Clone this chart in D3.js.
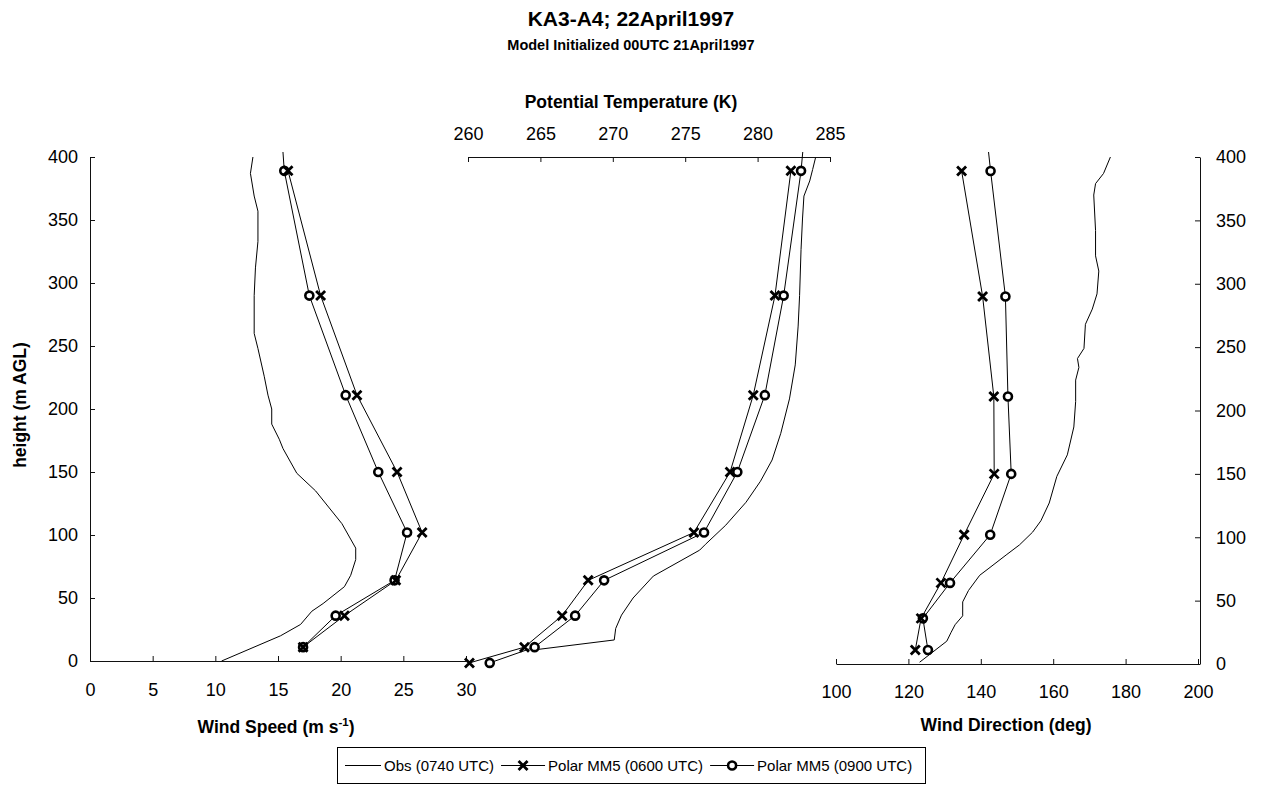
<!DOCTYPE html>
<html>
<head>
<meta charset="utf-8">
<script src="https://cdn.jsdelivr.net/npm/d3@7"></script>
<style>
  html, body { margin: 0; padding: 0; background: #fff; }
  svg { display: block; font-family: "Liberation Sans", Arial, sans-serif; }
  .axis path, .axis line { stroke: #111; stroke-width: 1; }
  .axis text { font-size: 18px; fill: #000; font-family: "Liberation Sans", Arial, sans-serif; }
</style>
</head>
<body>
<svg id="chart" width="1262" height="801"></svg>
<script>
// ---------------- DATA ----------------
const titleText = "KA3-A4; 22April1997";
const subtitleText = "Model Initialized 00UTC 21April1997";
const heightTicks = [0, 50, 100, 150, 200, 250, 300, 350, 400];
const speedTicks = [0, 5, 10, 15, 20, 25, 30];
const thetaTicks = [260, 265, 270, 275, 280, 285];
const dirTicks = [100, 120, 140, 160, 180, 200];
const seriesNames = ["Obs (0740 UTC)", "Polar MM5 (0600 UTC)", "Polar MM5 (0900 UTC)"];

// Model levels (m AGL)
const modelHeights = [11, 36, 64, 102, 150, 211, 290, 389];
const modelHeights0900 = [11, 36, 64, 102, 150, 211, 290, 389, 490];
const modelThetaHeights = [-1.5, 11, 36, 64, 102, 150, 211, 290, 389];
const modelThetaHeights0900 = [-1.5, 11, 36, 64, 102, 150, 211, 290, 389, 490];

// Wind speed (m/s)
const speed0600 = [17.0, 20.3, 24.4, 26.5, 24.5, 21.3, 18.4, 15.8];
const speed0900 = [17.0, 19.6, 24.3, 25.3, 23.0, 20.4, 17.5, 15.5, 14.8];
// Potential temperature (K)
const theta0600 = [260.1, 263.9, 266.5, 268.3, 275.6, 278.1, 279.7, 281.2, 282.3];
const theta0900 = [261.5, 264.6, 267.4, 269.4, 276.3, 278.6, 280.5, 281.8, 283.0, 283.8];
// Wind direction (deg)
const dir0600 = [121.9, 123.5, 129.0, 135.4, 143.7, 143.6, 140.5, 134.7];
const dir0900 = [125.4, 124.0, 131.5, 142.6, 148.4, 147.5, 146.8, 142.7, 138.9];

// Observed profiles
const obsSpeedHeights = [0, 20, 29, 39.5, 45.6, 59, 68, 80.5, 89.6, 109, 135, 149, 168.6, 176, 188, 200, 211, 226, 248, 260, 290, 312, 333, 357, 369, 387, 400];
const obsSpeed = [10.5, 15.2, 16.8, 17.7, 18.6, 20.3, 20.8, 21.2, 21.2, 20.1, 18.0, 16.5, 15.4, 15.1, 14.5, 14.5, 14.2, 13.9, 13.4, 13.1, 13.1, 13.2, 13.4, 13.4, 13.1, 12.8, 13.0];

const obsThetaHeights = [9, 16.7, 25.8, 36.4, 50, 67.4, 88, 92.6, 107.8, 126, 142.7, 159.5, 180.7, 208, 235, 265.8, 290, 326.5, 350.8, 369, 381, 390, 399.4];
const obsTheta = [264.7, 270.1, 270.2, 270.6, 271.4, 272.8, 276.0, 276.4, 277.8, 279.2, 280.2, 281.0, 281.6, 282.2, 282.6, 282.8, 282.9, 283.0, 283.1, 283.2, 283.6, 283.8, 284.0];

const obsDirHeights = [1.4, 18, 25, 31, 38, 49, 58, 70, 75, 86, 94, 104, 113, 127, 148, 165, 187, 207, 224, 234, 241, 249, 268, 280, 292, 310, 322, 342, 370, 379, 387, 400];
const obsDir = [123.1, 130.6, 131.8, 132.9, 135.0, 135.0, 136.6, 139.7, 142.0, 147.0, 150.7, 154.3, 156.6, 158.9, 161.0, 163.9, 165.7, 166.2, 166.2, 167.1, 166.7, 168.5, 168.9, 170.8, 172.1, 172.6, 171.7, 171.7, 171.2, 171.7, 173.9, 175.8];

// ---------------- SCALES ----------------
const svg = d3.select("#chart");
const FONT = '"Liberation Sans", Arial, sans-serif';

const yL = d3.scaleLinear().domain([0, 400]).range([661, 157]);
const yR = d3.scaleLinear().domain([0, 400]).range([664, 157]);
const xWS = d3.scaleLinear().domain([0, 30]).range([90, 466]);
const xPT = d3.scaleLinear().domain([260, 285]).range([468, 830]);
const xWD = d3.scaleLinear().domain([100, 200]).range([836, 1198]);

// clip paths (allow lines to run slightly above 400 m)
const defs = svg.append("defs");
function addClip(id, x0, x1, y0, y1) {
  defs.append("clipPath").attr("id", id).append("rect")
    .attr("x", x0).attr("y", y0).attr("width", x1 - x0).attr("height", y1 - y0);
}
addClip("clipL", xWS(0) - 20, xWS(30) + 10, yL(404), yL(-10));
addClip("clipM", xPT(260) - 10, xPT(285) + 10, yL(404), yL(-10));
addClip("clipR", xWD(100) - 10, xWD(200), yR(404), yR(-10));

// ---------------- AXES ----------------
function styleAxis(g) {
  g.attr("class", "axis");
  g.selectAll("text").style("font-family", FONT);
}

svg.append("g").attr("transform", `translate(${xWS(0)},0)`)
  .call(d3.axisLeft(yL).tickValues(heightTicks).tickSizeInner(-5).tickSizeOuter(0).tickPadding(12))
  .call(styleAxis);
svg.append("g").attr("transform", `translate(0,${yL(0)})`)
  .call(d3.axisBottom(xWS).tickValues(speedTicks).tickSizeInner(-5).tickSizeOuter(0).tickPadding(22))
  .call(styleAxis);
svg.append("g").attr("transform", `translate(0,${yL(400)})`)
  .call(d3.axisTop(xPT).tickValues(thetaTicks).tickSizeInner(-5).tickSizeOuter(0).tickPadding(17))
  .call(styleAxis);
svg.append("g").attr("transform", `translate(0,${yR(0)})`)
  .call(d3.axisBottom(xWD).tickValues(dirTicks).tickSizeInner(-5).tickSizeOuter(0).tickPadding(21))
  .call(styleAxis);
svg.append("g").attr("transform", `translate(${xWD(200) + 2},0)`)
  .call(d3.axisRight(yR).tickValues(heightTicks).tickSizeInner(-5).tickSizeOuter(0).tickPadding(16))
  .call(styleAxis);

// ---------------- SERIES ----------------
function drawLine(clip, xs, ys, hs, vs) {
  const pts = hs.map((h, i) => [xs(vs[i]), ys(h)]);
  svg.append("path").attr("clip-path", `url(#${clip})`)
    .attr("d", d3.line()(pts))
    .attr("fill", "none").attr("stroke", "#000").attr("stroke-width", 1);
}
const xPath = "M-4.5,-4.5L4.5,4.5M-4.5,4.5L4.5,-4.5";
function drawX(xs, ys, hs, vs, n) {
  svg.append("g").selectAll("path").data(hs.slice(0, n)).join("path")
    .attr("transform", (h, i) => `translate(${xs(vs[i])},${ys(h)})`)
    .attr("d", xPath).attr("stroke", "#000").attr("stroke-width", 2.8).attr("fill", "none");
}
function drawO(xs, ys, hs, vs, n) {
  svg.append("g").selectAll("circle").data(hs.slice(0, n)).join("circle")
    .attr("cx", (h, i) => xs(vs[i])).attr("cy", h => ys(h)).attr("r", 4)
    .attr("fill", "#fff").attr("stroke", "#000").attr("stroke-width", 2.6);
}

// Wind speed panel
drawLine("clipL", xWS, yL, obsSpeedHeights, obsSpeed);
drawLine("clipL", xWS, yL, modelHeights, speed0600);
drawLine("clipL", xWS, yL, modelHeights0900, speed0900);
drawO(xWS, yL, modelHeights0900, speed0900, 8);
drawX(xWS, yL, modelHeights, speed0600, 8);

// Potential temperature panel
drawLine("clipM", xPT, yL, obsThetaHeights, obsTheta);
drawLine("clipM", xPT, yL, modelThetaHeights, theta0600);
drawLine("clipM", xPT, yL, modelThetaHeights0900, theta0900);
drawO(xPT, yL, modelThetaHeights0900, theta0900, 9);
drawX(xPT, yL, modelThetaHeights, theta0600, 9);

// Wind direction panel
drawLine("clipR", xWD, yR, obsDirHeights, obsDir);
drawLine("clipR", xWD, yR, modelHeights, dir0600);
drawLine("clipR", xWD, yR, modelHeights0900, dir0900);
drawO(xWD, yR, modelHeights0900, dir0900, 8);
drawX(xWD, yR, modelHeights, dir0600, 8);

// ---------------- TEXT ----------------
svg.append("text").attr("x", 631).attr("y", 26).attr("text-anchor", "middle")
  .style("font-family", FONT).style("font-weight", "bold").style("font-size", "21px").text(titleText);
svg.append("text").attr("x", 631).attr("y", 50).attr("text-anchor", "middle")
  .style("font-family", FONT).style("font-weight", "bold").style("font-size", "14.5px").text(subtitleText);
svg.append("text").attr("x", 631).attr("y", 108).attr("text-anchor", "middle")
  .style("font-family", FONT).style("font-weight", "bold").style("font-size", "17.5px").text("Potential Temperature (K)");

const ws = svg.append("text").attr("x", 276).attr("y", 733).attr("text-anchor", "middle")
  .style("font-family", FONT).style("font-weight", "bold").style("font-size", "17.5px");
ws.append("tspan").text("Wind Speed (m s");
ws.append("tspan").attr("dy", -7).style("font-size", "11.5px").text("-1");
ws.append("tspan").attr("dy", 7).text(")");

svg.append("text").attr("x", 1006).attr("y", 731).attr("text-anchor", "middle")
  .style("font-family", FONT).style("font-weight", "bold").style("font-size", "17.5px").text("Wind Direction (deg)");

svg.append("text").attr("transform", "translate(26,405) rotate(-90)").attr("text-anchor", "middle")
  .style("font-family", FONT).style("font-weight", "bold").style("font-size", "17.5px").text("height (m AGL)");

// ---------------- LEGEND ----------------
const lg = svg.append("g");
lg.append("rect").attr("x", 337.5).attr("y", 747.5).attr("width", 588).attr("height", 36)
  .attr("fill", "#fff").attr("stroke", "#000").attr("stroke-width", 1);
const legendSpec = [
  { len: 36, marker: null },
  { len: 44, marker: "x" },
  { len: 44, marker: "o" }
];
let cursor = 345;
const ly = 765.5;
legendSpec.forEach((it, i) => {
  const x0 = cursor, x1 = cursor + it.len;
  lg.append("line").attr("x1", x0).attr("x2", x1).attr("y1", ly).attr("y2", ly)
    .attr("stroke", "#000").attr("stroke-width", 1);
  const cx = (x0 + x1) / 2;
  if (it.marker === "x") {
    lg.append("path").attr("transform", `translate(${cx},${ly})`).attr("d", xPath)
      .attr("stroke", "#000").attr("stroke-width", 2.8).attr("fill", "none");
  } else if (it.marker === "o") {
    lg.append("circle").attr("cx", cx).attr("cy", ly).attr("r", 4)
      .attr("fill", "#fff").attr("stroke", "#000").attr("stroke-width", 2.6);
  }
  const t = lg.append("text").attr("x", x1 + 3).attr("y", ly + 5.5)
    .style("font-family", FONT).style("font-size", "15px").text(seriesNames[i]);
  cursor = x1 + 3 + t.node().getComputedTextLength() + 7;
});
</script>
</body>
</html>
